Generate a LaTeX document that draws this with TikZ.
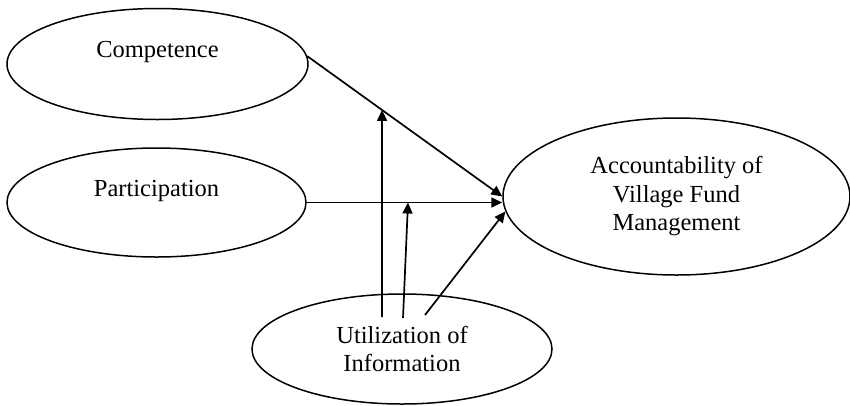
\documentclass[tikz,border=0pt]{standalone}
\usepackage{fontspec}
\setmainfont{Liberation Serif}
\usetikzlibrary{shapes.geometric, arrows.meta, positioning, calc}

\begin{document}
\begin{tikzpicture}[
    x=1pt, y=-1pt,
    construct/.style={draw, ellipse, line width=1.5pt, inner sep=0pt, align=center, font=\fontsize{24.5}{28.5}\selectfont},
    arrow/.style={-{Triangle[length=11pt, width=10pt]}, line width=1.7pt}
]
\useasboundingbox (0,0) rectangle (850,405);

% Independent variables
\node[construct, minimum width=301pt, minimum height=111pt] (comp) at (157.5,64) {Competence\\~};
\node[construct, minimum width=299pt, minimum height=109pt] (part) at (156.5,202.5) {Participation\\~};

% Dependent variable
\node[construct, minimum width=347pt, minimum height=157pt] (acc) at (676.5,196.5) {Accountability of\\Village Fund\\Management};

% Moderating variable
\node[construct, minimum width=300pt, minimum height=110pt] (util) at (402,349) {Utilization of\\Information};

% Start points of the moderating arrows
\coordinate (u1) at (382,317);
\coordinate (u1up) at (382,90);
\coordinate (u2) at (403,318);
\coordinate (u3) at (425,315);
\coordinate (t2) at ([xshift=5pt]part.east -| u2);

% Arrows
\draw[arrow] (comp.3) -- (acc.west);
\draw[arrow] (part.east) -- (part.east -| acc.west);
\draw[arrow] (u1) -- (intersection of u1--u1up and comp.3--acc.west);
\draw[arrow] (u2) -- (t2);
\draw[arrow] (u3) -- (acc.185);

\end{tikzpicture}
\end{document}
